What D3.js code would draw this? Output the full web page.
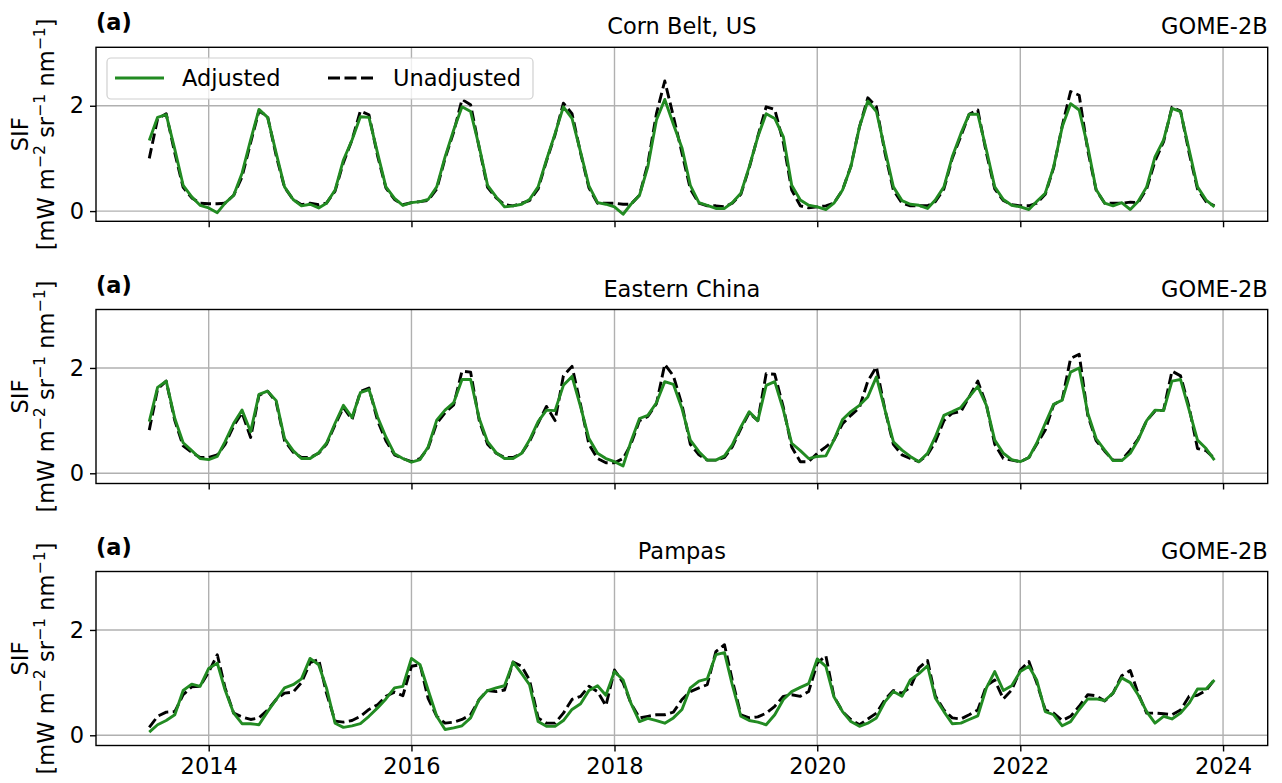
<!DOCTYPE html>
<html>
<head>
<meta charset="utf-8">
<script src="https://cdn.jsdelivr.net/npm/d3@7"></script>
<style>
  html, body { margin: 0; padding: 0; background: #fff; }
  svg { display: block; font-family: "DejaVu Sans", sans-serif; }
</style>
</head>
<body>
<svg id="chart" width="1282" height="783"></svg>
<script>
// ---- Data (monthly, Jun 2013 – Dec 2023) ----
const startMonth = "2013-06";
const endMonth = "2023-12";
const panelTitles = ["Corn Belt, US", "Eastern China", "Pampas"];
const panelTag = "(a)";
const sensorLabel = "GOME-2B";
const seriesNames = ["Adjusted", "Unadjusted"];
const yTicks = [0, 2];
const xTickYears = [2014, 2016, 2018, 2020, 2022, 2024];

const cornAdj = [
  1.34, 1.78, 1.83, 1.17, 0.49, 0.27, 0.11,
  0.06, -0.03, 0.15, 0.30, 0.72, 1.35, 1.93, 1.78, 1.10, 0.46, 0.22, 0.10,
  0.13, 0.06, 0.15, 0.40, 0.97, 1.35, 1.79, 1.78, 1.10, 0.46, 0.24, 0.11,
  0.16, 0.18, 0.22, 0.46, 1.03, 1.54, 1.98, 1.89, 1.22, 0.49, 0.27, 0.08,
  0.10, 0.13, 0.22, 0.46, 0.97, 1.47, 1.98, 1.76, 1.12, 0.48, 0.16, 0.13,
  0.08, -0.06, 0.13, 0.30, 0.84, 1.73, 2.12, 1.65, 1.20, 0.49, 0.16, 0.11,
  0.05, 0.05, 0.16, 0.34, 0.84, 1.41, 1.85, 1.76, 1.41, 0.49, 0.21, 0.11,
  0.08, 0.03, 0.15, 0.40, 0.84, 1.60, 2.09, 1.89, 1.16, 0.46, 0.20, 0.13,
  0.11, 0.05, 0.21, 0.46, 1.03, 1.47, 1.84, 1.84, 1.16, 0.46, 0.22, 0.11,
  0.08, 0.03, 0.18, 0.34, 0.84, 1.60, 2.04, 1.92, 1.22, 0.41, 0.15, 0.10,
  0.16, 0.03, 0.18, 0.46, 1.03, 1.35, 1.95, 1.89, 1.16, 0.46, 0.21, 0.08
];
const cornUnadj = [
  1.00, 1.75, 1.85, 1.10, 0.45, 0.25, 0.15,
  0.14, 0.14, 0.15, 0.30, 0.65, 1.30, 1.90, 1.80, 1.05, 0.45, 0.22, 0.12,
  0.15, 0.12, 0.15, 0.38, 0.92, 1.35, 1.90, 1.83, 1.05, 0.44, 0.22, 0.12,
  0.16, 0.18, 0.20, 0.42, 1.00, 1.50, 2.12, 2.02, 1.20, 0.45, 0.25, 0.12,
  0.10, 0.15, 0.20, 0.42, 0.95, 1.45, 2.05, 1.85, 1.10, 0.44, 0.15, 0.15,
  0.15, 0.13, 0.13, 0.30, 0.90, 1.85, 2.47, 1.80, 1.10, 0.42, 0.15, 0.10,
  0.10, 0.08, 0.15, 0.32, 0.82, 1.42, 1.98, 1.93, 1.30, 0.40, 0.10, 0.06,
  0.08, 0.10, 0.15, 0.40, 0.85, 1.60, 2.15, 1.98, 1.10, 0.40, 0.15, 0.10,
  0.10, 0.10, 0.18, 0.42, 1.00, 1.42, 1.84, 1.92, 1.10, 0.42, 0.20, 0.12,
  0.10, 0.10, 0.15, 0.32, 0.82, 1.62, 2.27, 2.20, 1.15, 0.40, 0.15, 0.15,
  0.15, 0.17, 0.16, 0.42, 0.95, 1.32, 1.97, 1.90, 1.10, 0.42, 0.18, 0.10
];
const chinaAdj = [
  0.98, 1.63, 1.75, 1.04, 0.58, 0.43, 0.28,
  0.26, 0.32, 0.60, 0.95, 1.20, 0.79, 1.50, 1.56, 1.38, 0.66, 0.43, 0.28,
  0.28, 0.39, 0.57, 0.95, 1.29, 1.06, 1.53, 1.59, 1.07, 0.69, 0.37, 0.28,
  0.21, 0.26, 0.50, 1.01, 1.20, 1.34, 1.78, 1.78, 1.04, 0.60, 0.39, 0.28,
  0.28, 0.38, 0.63, 0.98, 1.20, 1.19, 1.67, 1.84, 1.26, 0.66, 0.38, 0.28,
  0.22, 0.14, 0.60, 1.04, 1.10, 1.34, 1.74, 1.69, 1.23, 0.63, 0.41, 0.25,
  0.25, 0.33, 0.54, 0.88, 1.17, 1.00, 1.67, 1.74, 1.20, 0.57, 0.43, 0.28,
  0.32, 0.33, 0.63, 1.02, 1.17, 1.29, 1.45, 1.83, 1.20, 0.60, 0.44, 0.32,
  0.22, 0.38, 0.69, 1.10, 1.17, 1.25, 1.45, 1.65, 1.29, 0.63, 0.38, 0.26,
  0.22, 0.30, 0.57, 0.95, 1.31, 1.39, 1.92, 2.00, 1.14, 0.66, 0.44, 0.24,
  0.24, 0.38, 0.63, 1.00, 1.20, 1.19, 1.75, 1.78, 1.20, 0.63, 0.47, 0.25
];
const chinaUnadj = [
  0.82, 1.60, 1.75, 1.00, 0.52, 0.40, 0.30,
  0.30, 0.35, 0.55, 0.90, 1.15, 0.68, 1.48, 1.56, 1.35, 0.62, 0.40, 0.30,
  0.30, 0.38, 0.55, 0.92, 1.25, 1.02, 1.55, 1.62, 1.00, 0.62, 0.35, 0.28,
  0.22, 0.28, 0.48, 0.95, 1.15, 1.30, 1.94, 1.92, 1.00, 0.55, 0.38, 0.30,
  0.30, 0.38, 0.60, 0.95, 1.27, 1.00, 1.85, 2.03, 1.30, 0.55, 0.28, 0.20,
  0.20, 0.28, 0.55, 1.00, 1.08, 1.32, 2.07, 1.85, 1.30, 0.55, 0.35, 0.25,
  0.25, 0.30, 0.50, 0.85, 1.15, 1.00, 1.89, 1.88, 1.25, 0.50, 0.22, 0.22,
  0.38, 0.50, 0.63, 0.94, 1.10, 1.25, 1.75, 2.02, 1.20, 0.55, 0.35, 0.28,
  0.22, 0.35, 0.60, 1.00, 1.14, 1.17, 1.45, 1.75, 1.30, 0.55, 0.28, 0.25,
  0.22, 0.30, 0.55, 0.82, 1.30, 1.40, 2.18, 2.26, 1.10, 0.62, 0.42, 0.25,
  0.25, 0.44, 0.65, 1.00, 1.18, 1.20, 1.94, 1.85, 1.25, 0.47, 0.43, 0.28
];
const pampasAdj = [
  0.06, 0.20, 0.28, 0.39, 0.85, 0.97, 0.93,
  1.27, 1.37, 0.86, 0.42, 0.22, 0.22, 0.20, 0.45, 0.68, 0.90, 0.96, 1.07,
  1.46, 1.34, 0.90, 0.23, 0.15, 0.18, 0.22, 0.36, 0.52, 0.69, 0.90, 0.93,
  1.46, 1.34, 0.86, 0.36, 0.11, 0.14, 0.18, 0.33, 0.68, 0.85, 0.90, 0.94,
  1.39, 1.17, 0.96, 0.26, 0.17, 0.17, 0.28, 0.49, 0.60, 0.85, 0.94, 0.76,
  1.21, 1.05, 0.61, 0.26, 0.32, 0.28, 0.23, 0.33, 0.49, 0.90, 1.03, 1.07,
  1.53, 1.57, 0.96, 0.36, 0.28, 0.25, 0.20, 0.39, 0.68, 0.83, 0.91, 0.98,
  1.45, 1.31, 0.73, 0.45, 0.26, 0.17, 0.23, 0.33, 0.64, 0.83, 0.74, 1.05,
  1.17, 1.32, 0.71, 0.45, 0.22, 0.23, 0.30, 0.37, 0.90, 1.21, 0.85, 0.94,
  1.21, 1.31, 1.05, 0.45, 0.39, 0.18, 0.26, 0.49, 0.69, 0.69, 0.66, 0.80,
  1.09, 1.00, 0.77, 0.45, 0.23, 0.36, 0.31, 0.42, 0.61, 0.88, 0.88, 1.05
];
const pampasUnadj = [
  0.15, 0.36, 0.44, 0.45, 0.77, 0.92, 0.93,
  1.20, 1.53, 0.90, 0.42, 0.35, 0.30, 0.33, 0.48, 0.68, 0.80, 0.82, 1.00,
  1.38, 1.44, 0.80, 0.27, 0.25, 0.28, 0.36, 0.49, 0.58, 0.74, 0.82, 0.75,
  1.31, 1.34, 0.70, 0.36, 0.23, 0.25, 0.30, 0.39, 0.68, 0.85, 0.83, 0.86,
  1.39, 1.31, 1.05, 0.33, 0.23, 0.23, 0.42, 0.68, 0.74, 0.93, 0.83, 0.56,
  1.24, 1.00, 0.61, 0.33, 0.36, 0.39, 0.39, 0.44, 0.68, 0.83, 0.90, 0.96,
  1.59, 1.72, 1.05, 0.39, 0.33, 0.35, 0.42, 0.55, 0.74, 0.77, 0.74, 0.83,
  1.37, 1.51, 0.74, 0.45, 0.30, 0.20, 0.31, 0.42, 0.68, 0.85, 0.80, 0.91,
  1.28, 1.42, 0.75, 0.48, 0.33, 0.31, 0.39, 0.48, 0.94, 1.05, 0.69, 0.86,
  1.24, 1.40, 1.00, 0.48, 0.42, 0.28, 0.36, 0.55, 0.77, 0.75, 0.65, 0.80,
  1.13, 1.23, 0.80, 0.42, 0.42, 0.41, 0.39, 0.48, 0.74, 0.76, 0.85, 1.06
];

// ---- Layout ----
const svg = d3.select("#chart");
const FONT = 22.5;
const LW = 2.9;
const plotLeft = 96, plotRight = 1267.7, plotH = 174;
const panelTops = [47.3, 309.5, 571.5];
const GREEN = "#228b22";

const parseMonth = d3.timeParse("%Y-%m");
const t0 = parseMonth(startMonth), t1 = parseMonth(endMonth);
const months = d3.timeMonth.range(t0, d3.timeMonth.offset(t1, 1));
const span = t1 - t0;
const x = d3.scaleTime()
  .domain([new Date(+t0 - 0.05 * span), new Date(+t1 + 0.05 * span)])
  .range([plotLeft, plotRight]);
const xTickDates = xTickYears.map(yr => new Date(yr, 0, 1));

const panels = [
  { title: panelTitles[0], adj: cornAdj, unadj: cornUnadj },
  { title: panelTitles[1], adj: chinaAdj, unadj: chinaUnadj },
  { title: panelTitles[2], adj: pampasAdj, unadj: pampasUnadj }
];

panels.forEach((p, i) => {
  const top = panelTops[i];
  const y = d3.scaleLinear().domain([-0.194, 3.11]).range([top + plotH, top]);
  const g = svg.append("g");

  // grid
  g.append("g").selectAll("line").data(xTickDates).join("line")
    .attr("x1", d => x(d)).attr("x2", d => x(d))
    .attr("y1", top).attr("y2", top + plotH)
    .attr("stroke", "#b0b0b0").attr("stroke-width", 1.4);
  g.append("g").selectAll("line").data(yTicks).join("line")
    .attr("x1", plotLeft).attr("x2", plotRight)
    .attr("y1", d => y(d)).attr("y2", d => y(d))
    .attr("stroke", "#b0b0b0").attr("stroke-width", 1.4);

  // clip
  const clipId = "clip" + i;
  svg.append("clipPath").attr("id", clipId).append("rect")
    .attr("x", plotLeft).attr("y", top).attr("width", plotRight - plotLeft).attr("height", plotH);

  const line = (vals) => d3.line()
    .x((d, k) => x(months[k]))
    .y(d => y(d))(vals);

  const lines = g.append("g").attr("clip-path", `url(#${clipId})`);
  lines.append("path").attr("d", line(p.unadj))
    .attr("fill", "none").attr("stroke", "#000").attr("stroke-width", LW)
    .attr("stroke-dasharray", "10.5,4.5").attr("stroke-linejoin", "round");
  lines.append("path").attr("d", line(p.adj))
    .attr("fill", "none").attr("stroke", GREEN).attr("stroke-width", LW)
    .attr("stroke-linejoin", "round");

  // axes
  const yAxis = d3.axisLeft(y).tickValues(yTicks).tickSize(6).tickPadding(6).tickFormat(d3.format("d"));
  const ya = g.append("g").attr("transform", `translate(${plotLeft},0)`).call(yAxis);
  const xAxis = d3.axisBottom(x).tickValues(xTickDates).tickSize(6).tickPadding(7)
    .tickFormat(i === 2 ? d3.timeFormat("%Y") : () => "");
  const xa = g.append("g").attr("transform", `translate(0,${top + plotH})`).call(xAxis);
  [ya, xa].forEach(a => {
    a.select(".domain").remove();
    a.selectAll(".tick line").attr("stroke", "#000").attr("stroke-width", 1.4);
    a.selectAll(".tick text").attr("font-size", FONT).attr("fill", "#000")
      .attr("font-family", "DejaVu Sans, sans-serif");
  });

  // frame
  g.append("rect").attr("x", plotLeft).attr("y", top)
    .attr("width", plotRight - plotLeft).attr("height", plotH)
    .attr("fill", "none").attr("stroke", "#000").attr("stroke-width", 1.4);

  // titles
  g.append("text").attr("x", plotLeft).attr("y", top - 17)
    .attr("font-size", FONT).attr("font-weight", "bold").text(panelTag);
  g.append("text").attr("x", (plotLeft + plotRight) / 2).attr("y", top - 13)
    .attr("text-anchor", "middle").attr("font-size", FONT).text(p.title);
  g.append("text").attr("x", plotRight).attr("y", top - 13)
    .attr("text-anchor", "end").attr("font-size", FONT).text(sensorLabel);

  // y label
  const cy = top + plotH / 2;
  g.append("text").attr("transform", `translate(28,${cy}) rotate(-90)`)
    .attr("text-anchor", "middle").attr("font-size", FONT).text("SIF");
  const t2 = g.append("text").attr("transform", `translate(54,${cy}) rotate(-90)`)
    .attr("text-anchor", "middle").attr("font-size", FONT);
  const parts = [["[mW m", false], ["\u22122", true], [" sr", false], ["\u22121", true], [" nm", false], ["\u22121", true], ["]", false]];
  parts.forEach(([s, sup], k) => {
    const ts = t2.append("tspan").text(s);
    if (sup) ts.attr("font-size", FONT * 0.7).attr("dy", -9);
    else if (k > 0 && parts[k - 1][1]) ts.attr("dy", 9);
  });

  // legend (first panel)
  if (i === 0) {
    const lg = g.append("g");
    lg.append("rect").attr("x", 107).attr("y", 58).attr("width", 426).attr("height", 41)
      .attr("rx", 4).attr("fill", "#fff").attr("fill-opacity", 0.8)
      .attr("stroke", "#d0d0d0").attr("stroke-width", 1.2);
    lg.append("line").attr("x1", 115).attr("x2", 164).attr("y1", 78).attr("y2", 78)
      .attr("stroke", GREEN).attr("stroke-width", LW);
    lg.append("text").attr("x", 182).attr("y", 86).attr("font-size", FONT).text(seriesNames[0]);
    lg.append("line").attr("x1", 328).attr("x2", 373).attr("y1", 78).attr("y2", 78)
      .attr("stroke", "#000").attr("stroke-width", LW).attr("stroke-dasharray", "12,4.5");
    lg.append("text").attr("x", 393).attr("y", 86).attr("font-size", FONT).text(seriesNames[1]);
  }
});
</script>
</body>
</html>
